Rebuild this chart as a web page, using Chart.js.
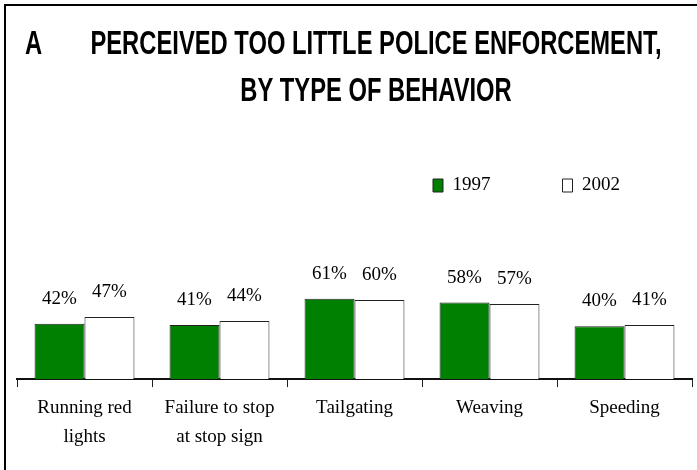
<!DOCTYPE html>
<html>
<head>
<meta charset="utf-8">
<script src="https://cdn.jsdelivr.net/npm/chart.js@4"></script>
<style>
  html, body { margin: 0; padding: 0; background: #fff; }
  #wrap { width: 697px; height: 470px; }
</style>
</head>
<body>
<div id="wrap"><canvas id="chart" width="697" height="470"></canvas></div>
<script>
const categories = [['Running red', 'lights'], ['Failure to stop', 'at stop sign'], 'Tailgating', 'Weaving', 'Speeding'];
const values1997 = [42, 41, 61, 58, 40];
const values2002 = [47, 44, 60, 57, 41];
const seriesNames = ['1997', '2002'];
const titleLines = ['PERCEIVED TOO LITTLE POLICE ENFORCEMENT,', 'BY TYPE OF BEHAVIOR'];
const panelLetter = 'A';

const serif = '"Liberation Serif", "Times New Roman", serif';

// frame, title and value labels
const decor = {
  id: 'decor',
  beforeDraw(chart) {
    const ctx = chart.ctx;
    ctx.save();
    ctx.fillStyle = '#fff';
    ctx.fillRect(0, 0, chart.width, chart.height);
    ctx.restore();
  },
  afterDraw(chart) {
    const ctx = chart.ctx;
    ctx.save();
    ctx.fillStyle = '#000';
    ctx.fillRect(4, 4, chart.width - 4, 2);
    ctx.fillRect(4, 4, 2, chart.height - 4);

    // narrow bold title
    const sx = 0.72;
    ctx.font = 'bold 33px "Liberation Sans", Arial, sans-serif';
    ctx.textBaseline = 'alphabetic';
    ctx.save();
    ctx.scale(sx, 1);
    ctx.textAlign = 'left';
    ctx.fillText(panelLetter, 25 / sx, 54);
    ctx.textAlign = 'center';
    titleLines.forEach((t, i) => ctx.fillText(t, 376 / sx, 54 + 47 * i));
    ctx.restore();

    ctx.font = '19px ' + serif;
    ctx.textAlign = 'center';
    chart.data.datasets.forEach((ds, i) => {
      chart.getDatasetMeta(i).data.forEach((bar, j) => {
        ctx.fillText(ds.data[j] + '%', bar.x, bar.y - 20);
      });
    });
    ctx.restore();
  }
};

new Chart(document.getElementById('chart'), {
  type: 'bar',
  data: {
    labels: categories,
    datasets: [{
      label: seriesNames[0],
      data: values1997,
      backgroundColor: '#008000',
      borderColor: '#222',
      borderWidth: 1,
      categoryPercentage: 0.74,
      barPercentage: 1.0
    },
    {
      label: seriesNames[1],
      data: values2002,
      backgroundColor: '#fff',
      borderColor: '#222',
      borderWidth: 1,
      categoryPercentage: 0.74,
      barPercentage: 1.0
    }]
  },
  options: {
    responsive: false,
    animation: false,
    layout: {
      padding: {top: 104, left: 17, right: 5, bottom: 12}
    },
    plugins: {
      title: { display: false },
      tooltip: { enabled: false },
      legend: {
        position: 'top',
        align: 'end',
        labels: {
          boxWidth: 10,
          boxHeight: 13,
          padding: 72,
          color: '#000',
          font: { family: serif, size: 19 }
        }
      }
    },
    scales: {
      x: {
        grid: {
          display: true,
          drawOnChartArea: false,
          drawTicks: true,
          tickLength: 8,
          color: '#222',
          offset: true
        },
        border: { display: true, color: '#111', width: 2 },
        ticks: {
          color: '#000',
          maxRotation: 0,
          autoSkip: false,
          padding: 6,
          font: { family: serif, size: 19, lineHeight: 1.55 }
        }
      },
      y: {
        display: false,
        min: 0,
        max: 132
      }
    }
  },
  plugins: [decor]
});
</script>
</body>
</html>
